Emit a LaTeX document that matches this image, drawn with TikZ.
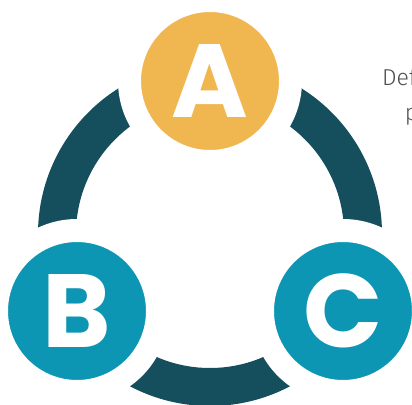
\documentclass[tikz,border=0pt]{standalone}
\usepackage{fontspec}
\newfontfamily\letterfont{Poppins}
\newfontfamily\descfont{Fira Sans Light}
\definecolor{ringcol}{HTML}{154F5E}
\definecolor{gold}{HTML}{F0B650}
\definecolor{teal}{HTML}{0C96B3}
\definecolor{desccol}{HTML}{4D4D4D}
\tikzset{
  bubble/.style={circle, draw=white, line width=23pt, minimum size=161pt, inner sep=0pt,
    text=white, font=\letterfont\bfseries\fontsize{104}{104}\selectfont},
  desc/.style={anchor=base west, inner sep=0pt, text=desccol, font=\descfont\fontsize{23}{28}\selectfont}
}
\begin{document}
\begin{tikzpicture}[x=1pt,y=-1pt]
\useasboundingbox (0,0) rectangle (412,404);
\coordinate (ctr) at (210,234);
\draw[ringcol, line width=38pt] (ctr) circle[radius=153pt];
\node[bubble, fill=gold] (A) at (210,81) {A};
\node[bubble, fill=teal] (B) at (77,311) {B};
\node[bubble, fill=teal] (C) at (343,311) {C};
\node[desc] (d1) at (382,85.3) {Def};
\node[desc] (d2) at (404.6,120.5) {p};
\end{tikzpicture}
\end{document}
